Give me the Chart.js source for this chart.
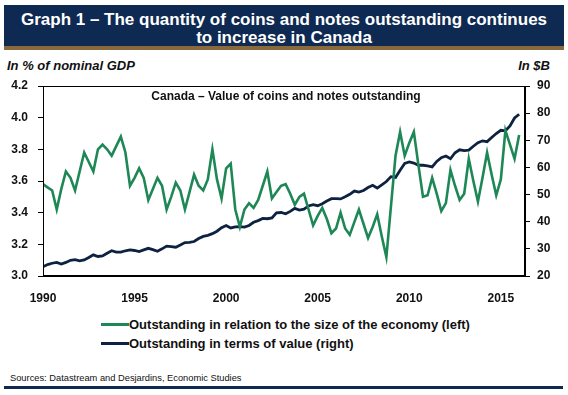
<!DOCTYPE html>
<html>
<head>
<meta charset="utf-8">
<script src="https://cdn.jsdelivr.net/npm/chart.js@4.4.1/dist/chart.umd.min.js"></script>
<style>
    body { margin: 0; background: #fff; font-family: "Liberation Sans", Arial, sans-serif; }
    #page { position: relative; width: 568px; height: 395px; overflow: hidden; }
    #banner {
        position: absolute; left: 4px; top: 5px; width: 560px; height: 41px;
        background: #0e2a52; border-bottom: 4px solid #8a6a3c;
        color: #fff; font-weight: bold; font-size: 17px; line-height: 18.5px;
        text-align: center;
    }
    #banner div { position: relative; top: 5.5px; }
    .unit { position: absolute; top: 58px; font-size: 13px; font-weight: bold; font-style: italic; color: #111; }
    #chartBox { position: absolute; left: 0; top: 76px; width: 568px; height: 239px; }
    #innerTitle {
        position: absolute; left: 45px; width: 482px; top: 89px; text-align: center;
        font-size: 12px; font-weight: bold; color: #111;
    }
    #legend { position: absolute; left: 101px; top: 317px; font-size: 13px; font-weight: bold; color: #111; }
    #legend .row { height: 19px; line-height: 16px; white-space: nowrap; }
    #legend .swatch { display: inline-block; width: 28px; height: 3px; vertical-align: middle; margin-top: -2px; }
    #source { position: absolute; left: 10px; top: 373px; font-size: 9.3px; color: #111; }
    #rule { position: absolute; left: 4px; top: 386px; width: 559px; height: 3px; background: #0e2a52; }
</style>
</head>
<body>
<div id="page">
    <div id="banner">
        <div>Graph 1 – The quantity of coins and notes outstanding continues<br>to increase in Canada</div>
    </div>
    <div class="unit" style="left:7px;">In % of nominal GDP</div>
    <div class="unit" style="right:18px;">In $B</div>
    <div id="chartBox"><canvas id="coinsChart"></canvas></div>
    <div id="innerTitle">Canada – Value of coins and notes outstanding</div>
    <div id="legend">
        <div class="row"><span class="swatch" style="background:#1e8756;"></span>Outstanding in relation to the size of the economy (left)</div>
        <div class="row"><span class="swatch" style="background:#0d2240;"></span>Outstanding in terms of value (right)</div>
    </div>
    <div id="source">Sources: Datastream and Desjardins, Economic Studies</div>
    <div id="rule"></div>
</div>

<script>
// quarterly data, 1990Q1 to 2016Q1
var startYear = 1990;
var yearTicks = [1990, 1995, 2000, 2005, 2010, 2015];

// in % of nominal GDP (left axis)
var shareOfGdp = [
    3.58, 3.56, 3.54, 3.42, 3.55, 3.66, 3.62, 3.54, 3.66, 3.78,
    3.72, 3.66, 3.80, 3.83, 3.80, 3.76, 3.82, 3.88, 3.78, 3.57,
    3.62, 3.68, 3.62, 3.48, 3.55, 3.62, 3.57, 3.42, 3.50, 3.59,
    3.54, 3.42, 3.53, 3.64, 3.57, 3.54, 3.61, 3.80, 3.61, 3.49,
    3.68, 3.71, 3.42, 3.31, 3.42, 3.46, 3.43, 3.48, 3.57, 3.66,
    3.49, 3.53, 3.57, 3.58, 3.52, 3.45, 3.50, 3.52, 3.42, 3.32,
    3.38, 3.43, 3.36, 3.27, 3.30, 3.40, 3.30, 3.26, 3.34, 3.42,
    3.33, 3.24, 3.31, 3.39, 3.25, 3.12, 3.44, 3.76, 3.91, 3.76,
    3.84, 3.91, 3.70, 3.50, 3.51, 3.62, 3.52, 3.41, 3.46, 3.67,
    3.57, 3.48, 3.52, 3.74, 3.60, 3.47, 3.62, 3.78, 3.64, 3.51,
    3.61, 3.92, 3.83, 3.74, 3.89
];

// in $B (right axis)
var valueBillions = [
    23.4, 24.2, 24.7, 25.0, 24.4, 25.0, 25.8, 26.0, 25.6, 25.9,
    26.8, 27.8, 27.2, 27.4, 28.4, 29.3, 28.8, 28.8, 29.3, 29.6,
    29.4, 29.0, 29.6, 30.2, 29.7, 29.1, 30.0, 31.0, 30.8, 30.6,
    31.4, 32.3, 32.4, 32.7, 33.8, 34.6, 35.0, 35.6, 36.5, 37.8,
    38.6, 37.7, 38.1, 38.2, 38.0, 38.6, 39.8, 40.4, 41.2, 41.1,
    41.4, 43.3, 43.4, 42.9, 43.8, 44.9, 44.3, 44.6, 45.8, 46.3,
    45.9, 46.6, 47.6, 48.5, 48.5, 48.4, 49.2, 50.1, 51.3, 50.9,
    51.5, 52.6, 53.4, 52.4, 53.6, 54.8, 56.6, 56.3, 59.0, 61.5,
    62.0, 61.6, 60.8, 60.8, 60.6, 60.2, 62.2, 63.6, 64.2, 63.2,
    65.4, 66.5, 66.2, 66.4, 67.8, 69.1, 69.8, 69.5, 71.0, 72.5,
    73.7, 73.5, 75.3, 78.2, 79.6
];

function toPoints(values) {
    return values.map(function (v, i) {
        return { x: startYear + i / 4, y: v };
    });
}

// draws the black frame round the plot
var frame = {
    id: 'frame',
    afterDraw: function (chart) {
        var a = chart.chartArea;
        var ctx = chart.ctx;
        ctx.save();
        ctx.strokeStyle = '#000';
        ctx.lineWidth = 1;
        ctx.strokeRect(a.left + 0.5, a.top + 0.5, a.right - a.left - 1, a.bottom - a.top - 1);
        ctx.restore();
    }
};

var tickFont = { family: '"Liberation Sans", Arial, sans-serif', size: 12, weight: 'bold' };

function createChart() {
    var canvas = document.getElementById('coinsChart');
    new Chart(canvas, {
        type: 'line',
        data: {
            datasets: [{
                label: 'Outstanding in relation to the size of the economy (left)',
                data: toPoints(shareOfGdp),
                yAxisID: 'left',
                borderColor: '#1e8756',
                borderWidth: 2.6,
                pointRadius: 0,
                tension: 0
            }, {
                label: 'Outstanding in terms of value (right)',
                data: toPoints(valueBillions),
                yAxisID: 'right',
                borderColor: '#0d2240',
                borderWidth: 2.8,
                pointRadius: 0,
                tension: 0
            }]
        },
        options: {
            responsive: true,
            maintainAspectRatio: false,
            animation: false,
            layout: { padding: { top: 10, left: 0, right: 0, bottom: 0 } },
            plugins: {
                legend: { display: false },
                tooltip: { enabled: false }
            },
            scales: {
                x: {
                    type: 'linear',
                    min: 1990,
                    max: 2016.32,
                    afterBuildTicks: function (axis) {
                        axis.ticks = yearTicks.map(function (y) { return { value: y }; });
                    },
                    afterFit: function (axis) { axis.height = 39; },
                    grid: { display: false },
                    border: { display: true, color: '#000', width: 1 },
                    ticks: {
                        color: '#111',
                        font: tickFont,
                        padding: 7,
                        maxRotation: 0,
                        callback: function (v) { return String(v); }
                    }
                },
                left: {
                    position: 'left',
                    min: 3.0,
                    max: 4.2,
                    afterFit: function (axis) {
                        axis.width = 43;
                        axis.paddingTop = 0;
                        axis.paddingBottom = 0;
                    },
                    grid: { drawOnChartArea: false, drawTicks: true, tickLength: 5, color: '#000' },
                    border: { display: true, color: '#000', width: 1 },
                    ticks: {
                        stepSize: 0.2,
                        color: '#111',
                        font: tickFont,
                        padding: 10,
                        callback: function (v) { return v.toFixed(1); }
                    }
                },
                right: {
                    position: 'right',
                    min: 20,
                    max: 90,
                    afterFit: function (axis) {
                        axis.width = 43;
                        axis.paddingTop = 0;
                        axis.paddingBottom = 0;
                    },
                    grid: { drawOnChartArea: false, drawTicks: true, tickLength: 5, color: '#000' },
                    border: { display: true, color: '#000', width: 1 },
                    ticks: {
                        stepSize: 10,
                        color: '#111',
                        font: tickFont,
                        padding: 7
                    }
                }
            }
        },
        plugins: [frame]
    });
}

window.onload = function () {
    createChart();
};
</script>
</body>
</html>
